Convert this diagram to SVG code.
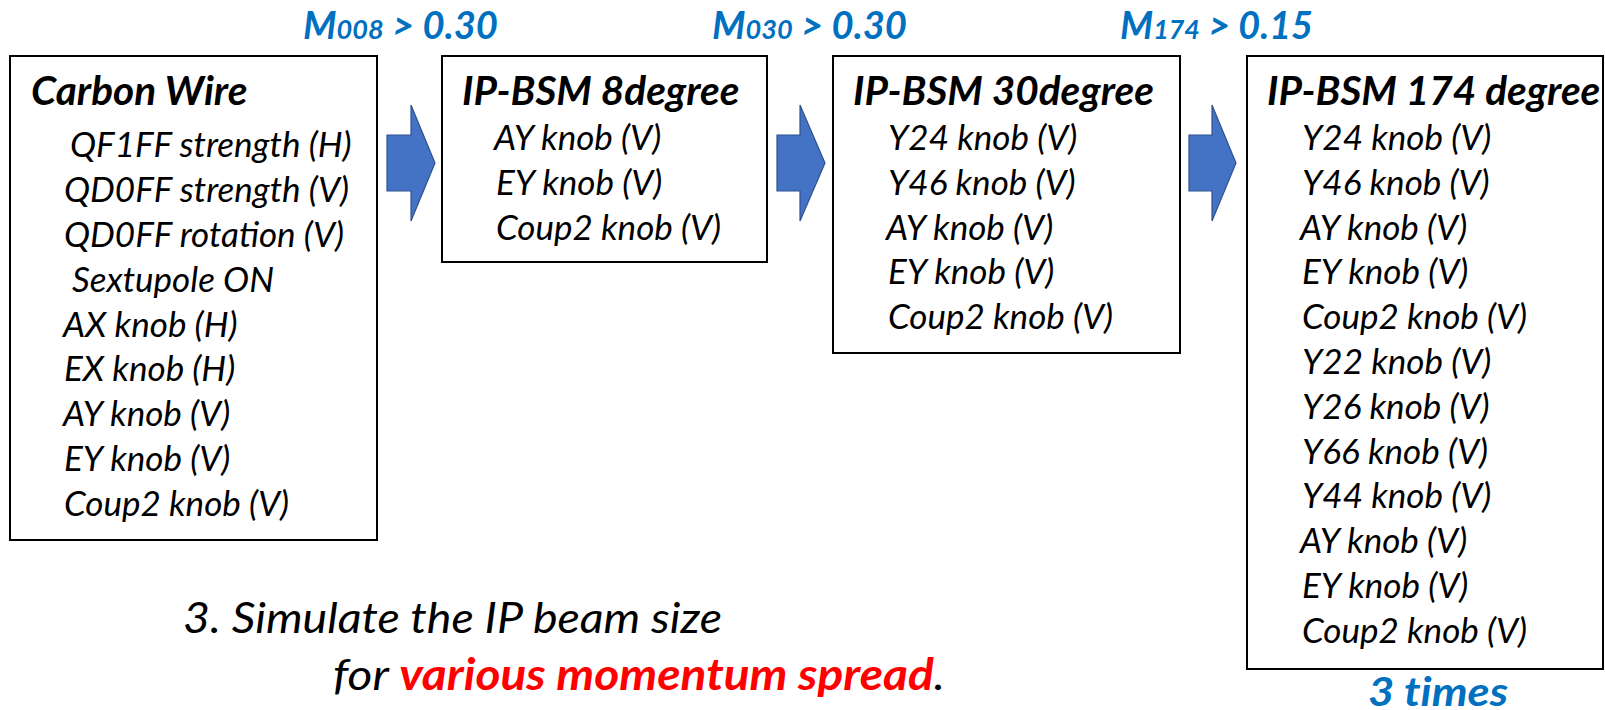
<svg xmlns="http://www.w3.org/2000/svg" width="1605" height="710" viewBox="0 0 1605 710">
<style>
.box{fill:#fff;stroke:#000;stroke-width:2}
.arrow{fill:#4472C4;stroke:#2F528F;stroke-width:1.2}
.title{font-family:Lato,"Liberation Sans",sans-serif;font-weight:bold;font-style:italic;font-size:40.5px;fill:#000}
.item{font-family:Lato,"Liberation Sans",sans-serif;font-style:italic;font-size:35px;fill:#000}
.lbl{font-family:Lato,"Liberation Sans",sans-serif;font-weight:bold;font-style:italic;font-size:38px;fill:#0070C0;font-variant-ligatures:none}
.sub{font-size:27px}
.note{font-family:Lato,"Liberation Sans",sans-serif;font-style:italic;font-size:43px;fill:#000}
.red{fill:#FF0000;font-weight:bold}
</style>
<rect width="1605" height="710" fill="#fff"/>
<g id="labels">
<text class="lbl" x="303" y="39" textLength="195" lengthAdjust="spacingAndGlyphs">M<tspan class="sub">008</tspan> &gt; 0.30</text>
<text class="lbl" x="712" y="39" textLength="195" lengthAdjust="spacingAndGlyphs">M<tspan class="sub">030</tspan> &gt; 0.30</text>
<text class="lbl" x="1120" y="39" textLength="193" lengthAdjust="spacingAndGlyphs">M<tspan class="sub">174</tspan> &gt; 0.15</text>
</g>
<g id="carbon-wire">
<rect class="box" x="10" y="56" width="367" height="484"/>
<text class="title" x="31" y="105">Carbon Wire</text>
<text class="item" x="70" y="157">QF1FF strength (H)</text>
<text class="item" x="64" y="202">QD0FF strength (V)</text>
<text class="item" x="64" y="247">QD0FF rotation (V)</text>
<text class="item" x="72" y="292">Sextupole ON</text>
<text class="item" x="63" y="337">AX knob (H)</text>
<text class="item" x="64" y="381">EX knob (H)</text>
<text class="item" x="63" y="426">AY knob (V)</text>
<text class="item" x="64" y="471">EY knob (V)</text>
<text class="item" x="64" y="516">Coup2 knob (V)</text>
</g>
<g id="ipbsm-8">
<rect class="box" x="442" y="56" width="325" height="206"/>
<text class="title" x="462" y="105">IP-BSM 8degree</text>
<text class="item" x="494" y="150">AY knob (V)</text>
<text class="item" x="496" y="195">EY knob (V)</text>
<text class="item" x="496" y="240">Coup2 knob (V)</text>
</g>
<g id="ipbsm-30">
<rect class="box" x="833" y="56" width="347" height="297"/>
<text class="title" x="853" y="105">IP-BSM 30degree</text>
<text class="item" x="888" y="150">Y24 knob (V)</text>
<text class="item" x="888" y="195">Y46 knob (V)</text>
<text class="item" x="886" y="240">AY knob (V)</text>
<text class="item" x="888" y="284">EY knob (V)</text>
<text class="item" x="888" y="329">Coup2 knob (V)</text>
</g>
<g id="ipbsm-174">
<rect class="box" x="1247" y="56" width="356" height="613"/>
<text class="title" x="1267" y="105">IP-BSM 174 degree</text>
<text class="item" x="1302" y="150">Y24 knob (V)</text>
<text class="item" x="1302" y="195">Y46 knob (V)</text>
<text class="item" x="1300" y="240">AY knob (V)</text>
<text class="item" x="1302" y="284">EY knob (V)</text>
<text class="item" x="1302" y="329">Coup2 knob (V)</text>
<text class="item" x="1302" y="374">Y22 knob (V)</text>
<text class="item" x="1302" y="419">Y26 knob (V)</text>
<text class="item" x="1302" y="464">Y66 knob (V)</text>
<text class="item" x="1302" y="508">Y44 knob (V)</text>
<text class="item" x="1300" y="553">AY knob (V)</text>
<text class="item" x="1302" y="598">EY knob (V)</text>
<text class="item" x="1302" y="643">Coup2 knob (V)</text>
</g>
<g id="connectors">
<path class="arrow" d="M387,135 H411 V105 L435,163 L411,221 V191 H387 Z"/>
<path class="arrow" d="M777,135 H800 V105 L825,163 L800,221 V191 H777 Z"/>
<path class="arrow" d="M1189,135 H1212 V105 L1236,163 L1212,221 V191 H1189 Z"/>
</g>
<g id="notes">
<text class="lbl" x="1368" y="706" style="font-size:41px" textLength="140" lengthAdjust="spacingAndGlyphs">3 times</text>
<text class="note" x="183" y="633" textLength="539" lengthAdjust="spacingAndGlyphs">3. Simulate the IP beam size</text>
<text class="note" x="333" y="690" textLength="612" lengthAdjust="spacingAndGlyphs">for <tspan class="red">various momentum spread</tspan>.</text>
</g>
</svg>
